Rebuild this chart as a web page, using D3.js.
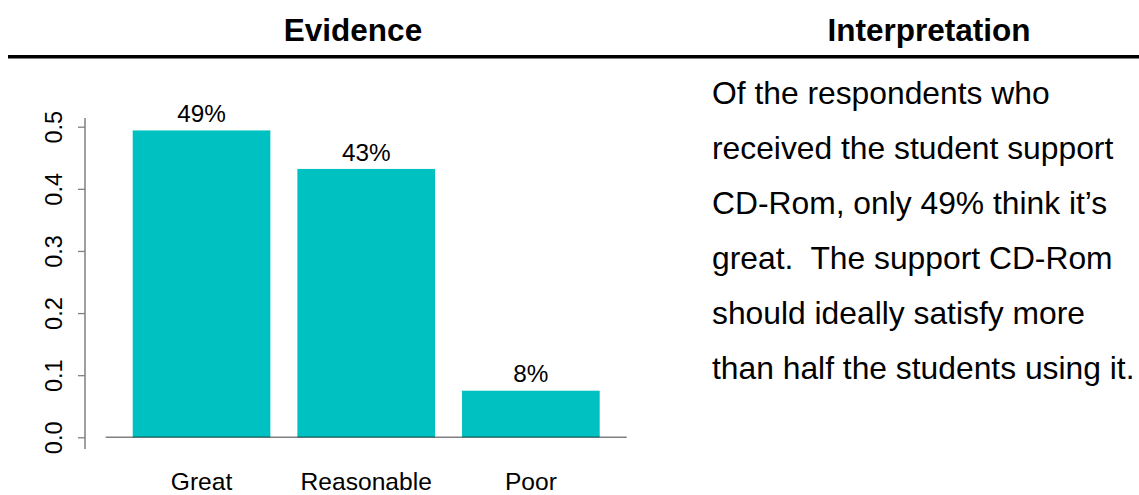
<!DOCTYPE html>
<html>
<head>
<meta charset="utf-8">
<script src="https://cdn.jsdelivr.net/npm/d3@7"></script>
<style>
  html, body { margin: 0; padding: 0; background: #fff; }
  svg { display: block; font-family: "Liberation Sans", Arial, sans-serif; }
</style>
</head>
<body>
<svg id="chart" width="1139" height="495"></svg>
<script>
// Ratings of the student support CD-Rom (share of respondents)
const categories = ["Great", "Reasonable", "Poor"];
const shares = [0.494, 0.432, 0.075];
const yTicks = [0.0, 0.1, 0.2, 0.3, 0.4, 0.5];
const headings = ["Evidence", "Interpretation"];
const interpretationLines = [
  "Of the respondents who",
  "received the student support",
  "CD-Rom, only 49% think it\u2019s",
  "great.  The support CD-Rom",
  "should ideally satisfy more",
  "than half the students using it."
];

const svg = d3.select("#chart");

// Section headings and rule beneath them
svg.append("text")
  .attr("x", 353).attr("y", 40.5)
  .attr("text-anchor", "middle")
  .attr("font-weight", "bold")
  .attr("font-size", 31.5)
  .text(headings[0]);
svg.append("text")
  .attr("x", 929).attr("y", 40.5)
  .attr("text-anchor", "middle")
  .attr("font-weight", "bold")
  .attr("font-size", 31.5)
  .text(headings[1]);
svg.append("line")
  .attr("x1", 8).attr("x2", 1139)
  .attr("y1", 56.7).attr("y2", 56.7)
  .attr("stroke", "#000").attr("stroke-width", 3.5);

// Bar chart
const y = d3.scaleLinear().domain([0, 0.5]).range([437.3, 126.7]);
const x = d3.scaleBand()
  .domain(categories)
  .range([105.7, 626.7])
  .paddingInner(0.164)
  .paddingOuter(0.164);

const axisX = 85;
const yAxis = d3.axisLeft(y)
  .tickValues(yTicks)
  .tickFormat(d3.format(".1f"))
  .tickSize(7)
  .tickSizeOuter(0);
const gy = svg.append("g")
  .attr("transform", `translate(${axisX},0)`)
  .call(yAxis);
gy.select(".domain").remove();
gy.append("line")
  .attr("x1", 0).attr("x2", 0)
  .attr("y1", y(0.514)).attr("y2", y(-0.019))
  .attr("stroke", "#7f7f7f").attr("stroke-width", 1.5);
gy.selectAll(".tick line").attr("stroke", "#7f7f7f").attr("stroke-width", 1.3);
gy.selectAll(".tick text")
  .attr("fill", "#000")
  .attr("font-size", 23.5)
  .attr("transform", "rotate(-90)")
  .attr("x", 0)
  .attr("y", -23.3)
  .attr("dy", "0")
  .attr("text-anchor", "middle")
  .attr("font-family", "'Liberation Sans', Arial, sans-serif");

const rows = categories.map((c, i) => ({ c, v: shares[i] }));

svg.append("g").selectAll("rect")
  .data(rows)
  .join("rect")
  .attr("x", d => x(d.c))
  .attr("width", x.bandwidth())
  .attr("y", d => y(d.v))
  .attr("height", d => y(0) - y(d.v))
  .attr("fill", "#00c1c1");

svg.append("line")
  .attr("x1", x.range()[0]).attr("x2", x.range()[1])
  .attr("y1", y(0)).attr("y2", y(0))
  .attr("stroke", "rgba(0,0,0,0.5)").attr("stroke-width", 1.5);

svg.append("g").selectAll("text")
  .data(rows)
  .join("text")
  .attr("x", d => x(d.c) + x.bandwidth() / 2)
  .attr("y", d => y(d.v) - 8.3)
  .attr("text-anchor", "middle")
  .attr("font-size", 24.3)
  .text(d => Math.round(d.v * 100) + "%");

svg.append("g").selectAll("text")
  .data(categories)
  .join("text")
  .attr("x", d => x(d) + x.bandwidth() / 2)
  .attr("y", 489.5)
  .attr("text-anchor", "middle")
  .attr("font-size", 24.6)
  .text(d => d);

// Interpretation paragraph
svg.append("g").selectAll("text")
  .data(interpretationLines)
  .join("text")
  .attr("x", 712)
  .attr("y", (d, i) => 103.5 + i * 55)
  .attr("font-size", 31.8)
  .attr("xml:space", "preserve")
  .style("white-space", "pre")
  .text(d => d);
</script>
</body>
</html>
